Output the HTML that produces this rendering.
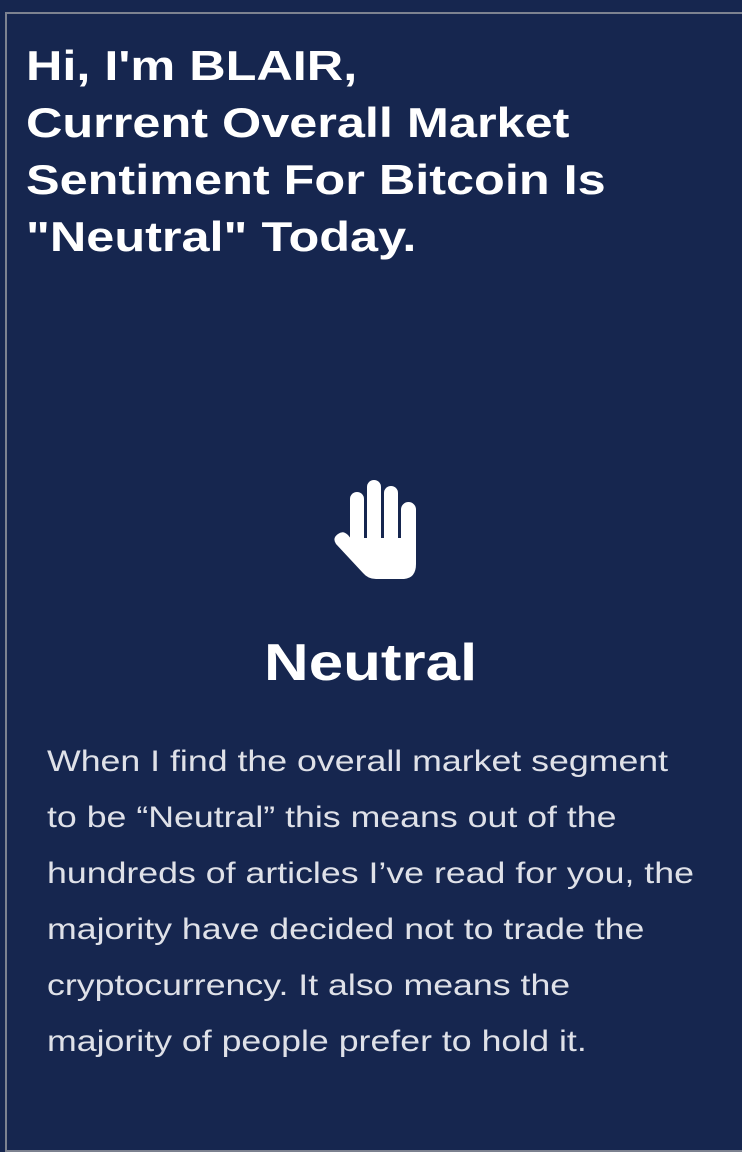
<!DOCTYPE html>
<html><head><meta charset="utf-8"><style>
html,body{margin:0;padding:0;width:742px;height:1122px;overflow:hidden;background:#16264f;}
.card{position:absolute;left:5px;top:12px;width:740px;height:1140px;border:2px solid #7d8290;box-sizing:border-box;background:#16264f;}
h1{position:absolute;left:26px;top:37px;margin:0;font-family:"Liberation Sans",sans-serif;font-weight:bold;font-size:42px;line-height:57px;color:#fff;white-space:nowrap;transform:scaleX(1.2);transform-origin:0 0;}
.hand{position:absolute;left:330px;top:478px;}
h2{position:absolute;left:0;width:742px;top:628px;margin:0;text-align:center;font-family:"Liberation Sans",sans-serif;font-weight:bold;font-size:52px;line-height:70px;color:#fff;transform:scaleX(1.19);transform-origin:373px 0;}
p{position:absolute;left:47px;top:734px;margin:0;font-family:"Liberation Sans",sans-serif;font-size:30px;line-height:56px;color:#dfe1e8;white-space:nowrap;transform:scaleX(1.19);transform-origin:0 0;}
</style></head><body>
<div class="card"></div>
<h1>Hi, I'm BLAIR,<br>Current Overall Market<br>Sentiment For Bitcoin Is<br>"Neutral" Today.</h1>
<svg class="hand" width="96" height="104" viewBox="0 0 96 104">
<g fill="#fff">
<rect x="20" y="14" width="14" height="70" rx="7"/>
<rect x="37" y="2" width="14" height="80" rx="7"/>
<rect x="54" y="8" width="14" height="76" rx="7"/>
<rect x="71" y="24" width="15" height="60" rx="7.5"/>
<path d="M20 60 L86 60 L86 86 Q86 100 74 101 L46 101 Q38 101 33 95 L6 66 Q2 60 8 56 Q13 52 18 57 L22 62 Z"/>
</g></svg>
<h2>Neutral</h2>
<p>When I find the overall market segment<br>to be “Neutral” this means out of the<br>hundreds of articles I’ve read for you, the<br>majority have decided not to trade the<br>cryptocurrency. It also means the<br>majority of people prefer to hold it.</p>
</body></html>
